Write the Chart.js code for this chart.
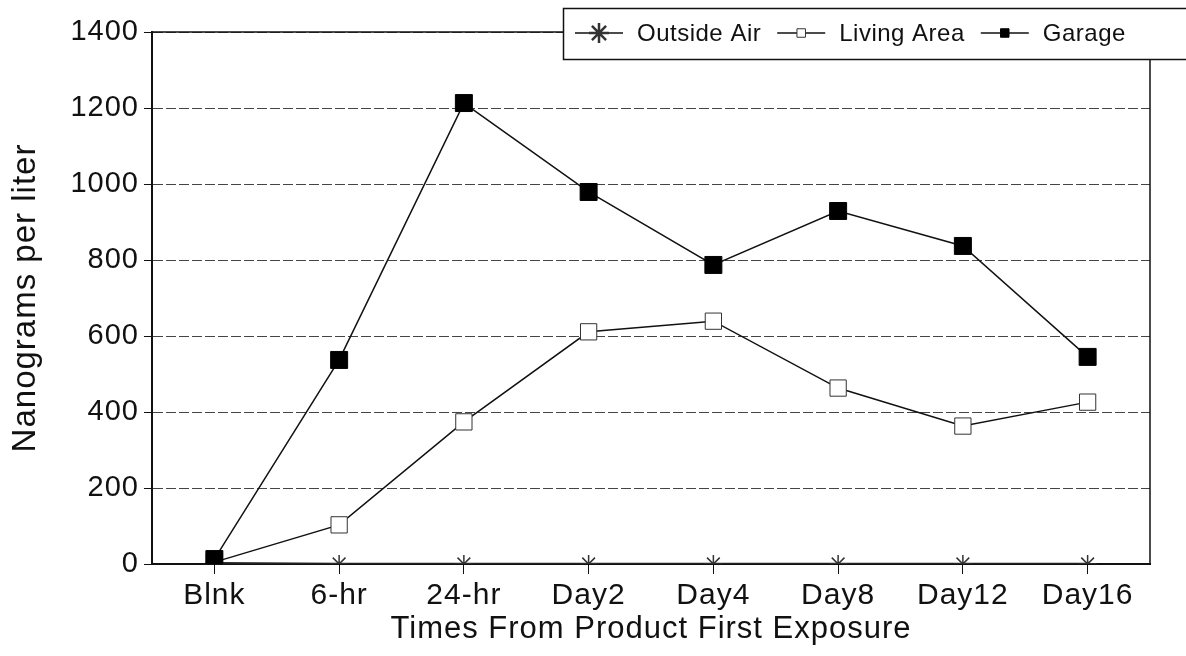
<!DOCTYPE html>
<html>
<head>
<meta charset="utf-8">
<script src="https://cdn.jsdelivr.net/npm/chart.js@4.4.0/dist/chart.umd.min.js"></script>
<style>
  html, body { margin: 0; padding: 0; background: #fff; }
  #wrap { width: 1186px; height: 656px; }
</style>
</head>
<body>
<div id="wrap"><canvas id="lineChart"></canvas></div>
<script>
const labels = ['Blnk', '6-hr', '24-hr', 'Day2', 'Day4', 'Day8', 'Day12', 'Day16']
const outsideAir = [2, 0, 0, 0, 0, 0, 0, 0]
const livingArea = [5, 103, 374, 611, 639, 463, 363, 426]
const garage = [13, 537, 1213, 979, 787, 929, 837, 545]
const yTicks = [0, 200, 400, 600, 800, 1000, 1200, 1400]

const FONT = "'Liberation Sans', Arial, Helvetica, sans-serif"

// a little tracking on all text, set again after every canvas resize
const spacing = {
  id: 'spacing',
  beforeLayout(chart) { chart.ctx.letterSpacing = '1px' },
  beforeDraw(chart) { chart.ctx.letterSpacing = '1px' }
}

// plot frame plus the boxed legend over the top right corner
const boxLegend = {
  id: 'boxLegend',
  afterDraw(chart) {
    const c = chart.ctx
    const a = chart.chartArea
    c.save()
    c.strokeStyle = '#111'
    c.lineWidth = 1.5
    c.beginPath()
    c.moveTo(a.left, a.top)
    c.lineTo(a.right, a.top)
    c.lineTo(a.right, a.bottom)
    c.stroke()

    c.fillStyle = '#fff'
    c.fillRect(563, 8, 640, 51)
    c.strokeRect(563.5, 8.5, 640, 51)

    c.letterSpacing = '0.5px'
    c.font = '24px ' + FONT
    c.textBaseline = 'middle'
    let x = 575
    const y = 33
    chart.data.datasets.forEach(ds => {
      const star = ds.pointStyle === 'star'
      c.strokeStyle = '#111'
      c.lineWidth = 1.5
      c.beginPath()
      c.moveTo(x, y)
      c.lineTo(x + 48, y)
      c.stroke()
      c.fillStyle = ds.pointBackgroundColor
      c.strokeStyle = ds.pointBorderColor
      c.lineWidth = star ? 2.5 : 1
      Chart.helpers.drawPoint(c, { pointStyle: ds.pointStyle, radius: star ? 10 : 6, borderWidth: c.lineWidth }, x + 24, y)
      c.fillStyle = '#111'
      c.fillText(ds.label, x + 62, y + 1)
      x += 62 + c.measureText(ds.label).width + 16
    })
    c.restore()
  }
}

new Chart(
  document.getElementById('lineChart'), {
    type: 'line',
    data: {
      labels: labels,
      datasets: [
        {
          label: 'Outside Air',
          data: outsideAir,
          order: 2,
          borderColor: '#222',
          borderWidth: 2.5,
          pointStyle: 'star',
          pointRadius: 9,
          pointBorderColor: '#333',
          pointBackgroundColor: '#333',
          pointBorderWidth: 1.5
        },
        {
          label: 'Living Area',
          data: livingArea,
          order: 1,
          borderColor: '#111',
          borderWidth: 1.5,
          pointStyle: 'rect',
          pointRadius: 11.5,
          pointBorderColor: '#333',
          pointBackgroundColor: '#fff',
          pointBorderWidth: 1
        },
        {
          label: 'Garage',
          data: garage,
          order: 0,
          borderColor: '#111',
          borderWidth: 1.5,
          pointStyle: 'rect',
          pointRadius: 12,
          pointBorderColor: '#000',
          pointBackgroundColor: '#000',
          pointBorderWidth: 1
        }
      ]
    },
    options: {
      responsive: true,
      maintainAspectRatio: false,
      animation: false,
      layout: { padding: { left: 0, right: 36, top: 32, bottom: 0 } },
      plugins: {
        legend: { display: false },
        tooltip: { enabled: false }
      },
      scales: {
        x: {
          offset: true,
          afterFit: s => { s.height = 92 },
          grid: {
            offset: false,
            drawOnChartArea: false,
            tickLength: 10,
            color: '#111'
          },
          border: { color: '#111', width: 2 },
          ticks: { color: '#111', padding: 4, font: { family: FONT, size: 30 } },
          title: {
            display: true,
            text: 'Times From Product First Exposure',
            color: '#111',
            padding: { top: 0, bottom: 8 },
            font: { family: FONT, size: 31 }
          }
        },
        y: {
          min: 0,
          max: 1400,
          afterFit: s => { s.width = 152 },
          afterBuildTicks: s => { s.ticks = yTicks.map(v => ({ value: v })) },
          grid: {
            color: '#444',
            lineWidth: 1,
            tickLength: 8,
            tickColor: '#111'
          },
          border: { color: '#111', width: 2, dash: [10, 3] },
          ticks: {
            color: '#111',
            padding: 5,
            font: { family: FONT, size: 29 },
            callback: v => String(v)
          },
          title: {
            display: true,
            text: 'Nanograms per liter',
            color: '#111',
            padding: { top: 6, bottom: 0 },
            font: { family: FONT, size: 33 }
          }
        }
      }
    },
    plugins: [spacing, boxLegend]
  }
)
</script>
</body>
</html>
